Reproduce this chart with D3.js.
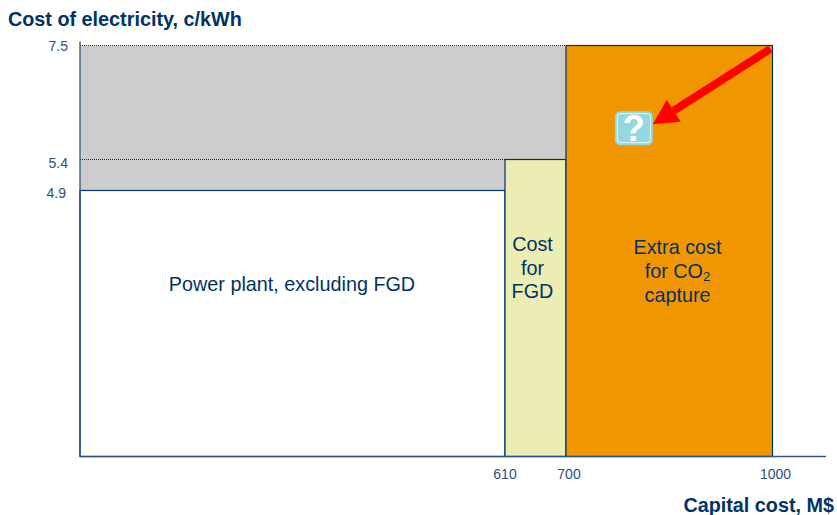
<!DOCTYPE html>
<html>
<head>
<meta charset="utf-8">
<script src="https://cdn.jsdelivr.net/npm/d3@7"></script>
<style>
body{margin:0;background:#fff;}
text{font-family:"Liberation Sans",Arial,sans-serif;fill:#003366;}
</style>
</head>
<body>
<div id="chart"></div>
<script>
let chart_width = 837;
let chart_height = 515;

let x_ticks = [610,700,1000];
let y_ticks = [4.9,5.4,7.5];
let x_start = 0;
let x_end = 1080;
let blocks = ['Power plant, excluding FGD','Cost for FGD','Extra cost for CO2 capture'];
let block_from = [0,610,700];
let block_to = [610,700,1000];
let block_top = [4.9,5.4,7.5];
let block_colors = ['#ffffff','#ecedb3','#f09600'];
let dark = '#003366';

// axis is not to scale in the picture, so the scales are piecewise
const xScale = d3.scaleLinear().domain([x_start,610,700,1000,x_end]).range([80,505,566,772.5,826]);
const yScale = d3.scaleLinear().domain([0,4.9,5.4,7.5]).range([456.5,190.5,159.5,45.5]);

let svg = d3.select('#chart').append('svg')
    .attr('width',chart_width)
    .attr('height',chart_height)
    .style('display','block');

// grey area up to the top cost
svg.append('rect')
    .attr('x',xScale(x_start))
    .attr('y',yScale(7.5))
    .attr('width',xScale(700)-xScale(x_start))
    .attr('height',yScale(4.9)-yScale(7.5))
    .attr('fill','#cccccc');

blocks.forEach(function(name,i){
    svg.append('rect')
        .attr('class','block')
        .attr('x',xScale(block_from[i]))
        .attr('y',yScale(block_top[i]))
        .attr('width',xScale(block_to[i])-xScale(block_from[i]))
        .attr('height',yScale(0)-yScale(block_top[i]))
        .attr('fill',block_colors[i])
        .attr('stroke',dark)
        .attr('stroke-width',1.2);
});

// dotted guides
[5.4,7.5].forEach(function(v,i){
    svg.append('line')
        .attr('x1',xScale(x_start))
        .attr('x2',xScale(block_from[i+1]))
        .attr('y1',yScale(v))
        .attr('y2',yScale(v))
        .attr('stroke',dark)
        .attr('stroke-width',1)
        .attr('stroke-dasharray','1,1');
});

// axes
svg.append('line')
    .attr('x1',xScale(x_start)).attr('x2',xScale(x_start))
    .attr('y1',yScale(7.5)-4).attr('y2',yScale(0))
    .attr('stroke','#2a5585').attr('stroke-width',1.3);
svg.append('line')
    .attr('x1',xScale(x_start)).attr('x2',xScale(x_end))
    .attr('y1',yScale(0)).attr('y2',yScale(0))
    .attr('stroke','#2a5585').attr('stroke-width',1.3);

svg.selectAll('.xtick').data(x_ticks).enter().append('text')
    .attr('class','xtick')
    .text(d=>d)
    .attr('x',d=>xScale(d)+(d===610?0:3))
    .attr('y',479)
    .attr('text-anchor','middle')
    .style('font-size','14px')
    .style('opacity',0.85);

svg.selectAll('.ytick').data(y_ticks).enter().append('text')
    .attr('class','ytick')
    .text(d=>d.toFixed(1))
    .attr('x',d=>d===4.9?66:68)
    .attr('y',d=>yScale(d)+(d===7.5?5:d===5.4?8:7))
    .attr('text-anchor','end')
    .style('font-size','14px')
    .style('opacity',0.85);

// titles
svg.append('text').text('Cost of electricity, c/kWh')
    .attr('x',8).attr('y',26)
    .style('font-size','19.8px').style('font-weight','bold');
svg.append('text').text('Capital cost, M$')
    .attr('x',834).attr('y',512)
    .attr('text-anchor','end')
    .style('font-size','19.8px').style('font-weight','bold');

// block labels
function label(lines,cx,first_y,step){
    let t = svg.append('g');
    lines.forEach(function(line,i){
        let el = t.append('text')
            .attr('x',cx)
            .attr('y',first_y+i*step)
            .attr('text-anchor','middle')
            .style('font-size','19.8px');
        if(line==='for CO2'){
            el.append('tspan').text('for CO');
            el.append('tspan').text('2').attr('dy',3).style('font-size','13px');
        }
        else{
            el.text(line);
        }
    });
}
label(['Power plant, excluding FGD'],292,291,0);
label(['Cost','for','FGD'],532.5,251,23.5);
label(['Extra cost','for CO2','capture'],677.5,254,24);

// arrow, given in chart units
let arrow_from = [997,7.44];
let arrow_to = [826,6.05];
let a = [xScale(arrow_from[0]),yScale(arrow_from[1])];
let b = [xScale(arrow_to[0]),yScale(arrow_to[1])];
let ang = Math.atan2(b[1]-a[1],b[0]-a[0]);
let head = 25;
let neck = [b[0]-head*Math.cos(ang),b[1]-head*Math.sin(ang)];
let nx = -Math.sin(ang), ny = Math.cos(ang);
svg.append('line')
    .attr('x1',a[0]).attr('y1',a[1])
    .attr('x2',neck[0]).attr('y2',neck[1])
    .attr('stroke','#ff0000')
    .attr('stroke-width',8);
svg.append('path')
    .attr('d',d3.line()([b,[neck[0]+nx*13,neck[1]+ny*13],[neck[0]-nx*13,neck[1]-ny*13]])+'Z')
    .attr('fill','#ff0000');

// question mark button
let q_x = xScale(771), q_y = yScale(6.29);
svg.append('rect')
    .attr('x',q_x).attr('y',q_y)
    .attr('width',38).attr('height',34).attr('rx',5)
    .attr('fill','#93d8df');
svg.append('rect')
    .attr('x',q_x+2.5).attr('y',q_y+2.5)
    .attr('width',33).attr('height',29).attr('rx',3)
    .attr('fill','none').attr('stroke','#ffffff').attr('stroke-width',0.8);
svg.append('text').text('?')
    .attr('x',q_x+19).attr('y',q_y+30)
    .attr('text-anchor','middle')
    .style('fill','#ffffff')
    .style('font-size','36px')
    .style('font-weight','bold');
</script>
</body>
</html>
